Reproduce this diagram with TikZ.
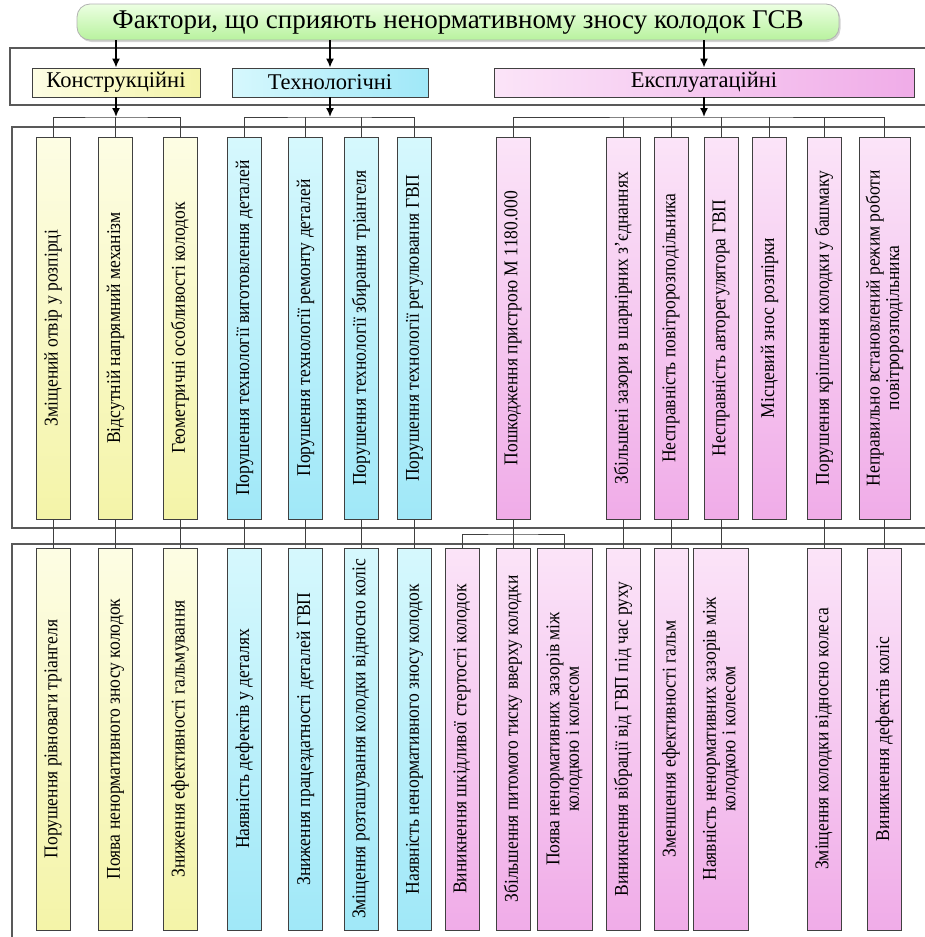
\documentclass[tikz,border=0pt]{standalone}
\usepackage{fontspec}
\setmainfont{Liberation Serif}
\newfontfamily\narrowfont{Liberation Serif}[FakeStretch=0.9]
\usetikzlibrary{arrows.meta,positioning,shadows}
\definecolor{KonL}{RGB}{253,253,228}
\definecolor{KonR}{RGB}{244,244,168}
\definecolor{TexL}{RGB}{214,248,253}
\definecolor{TexR}{RGB}{160,232,248}
\definecolor{ExpL}{RGB}{251,228,248}
\definecolor{ExpR}{RGB}{240,172,232}
\definecolor{HeadT}{RGB}{236,255,226}
\definecolor{HeadB}{RGB}{184,242,158}
\tikzset{
  headbox/.style={rounded corners=13pt,draw=black!30,line width=0.8pt,
                  top color=HeadT,bottom color=HeadB,
                  minimum width=762pt,minimum height=36pt,
                  font=\fontsize{27}{30}\selectfont,
                  drop shadow={shadow xshift=1.5pt,shadow yshift=-2pt,opacity=.35}},
  catbox/.style={draw=black!75,line width=0.9pt,minimum height=29pt,inner sep=2pt,
                 font=\fontsize{22.5}{26}\selectfont,
                 drop shadow={shadow xshift=1.2pt,shadow yshift=-1.2pt,opacity=.4}},
  vbox/.style={draw=black!75,line width=0.9pt,rotate=90,
               minimum width=382pt,minimum height=34pt,inner sep=1pt,
               font=\narrowfont\fontsize{19.5}{19.5}\selectfont,align=center},
  kbox/.style={vbox,top color=KonL,bottom color=KonR},
  tbox/.style={vbox,top color=TexL,bottom color=TexR},
  ebox/.style={vbox,top color=ExpL,bottom color=ExpR},
  arr/.style={-{Latex[length=9pt,width=8pt]},line width=1.6pt,black},
  link/.style={line width=0.9pt,black!75},
  frame/.style={line width=1.3pt,black!65},
}

\begin{document}
\begin{tikzpicture}[x=1pt,y=-1pt]
  \useasboundingbox (0,0) rectangle (925,937);
  \clip (0,0) rectangle (925,937);
  % frames
  \draw[frame] (940,48) -- (10,48) -- (10,105) -- (940,105);
  \draw[frame] (940,127) -- (12,127) -- (12,528) -- (940,528);
  \draw[frame] (940,544) -- (12,544) -- (12,950);

  % title and groups
  \node[headbox] (title) at (458,22) {Фактори, що сприяють ненормативному зносу колодок ГСВ};
  \node[catbox,minimum width=168pt,left color=KonL,right color=KonR] (kon) at (116,82.5) {Конструкційні};
  \node[catbox,minimum width=196pt,left color=TexL,right color=TexR] (tex) at (330,82.5) {Технологічні};
  \node[catbox,minimum width=420pt,left color=ExpL,right color=ExpR] (exp) at (704,82.5) {Експлуатаційні};
  \draw[arr] (title.south -| kon.north) -- (kon.north);
  \draw[arr] (title.south -| tex.north) -- (tex.north);
  \draw[arr] (title.south -| exp.north) -- (exp.north);

  % causes
  \node[kbox] (u1) at (53,328) {Зміщений отвір у розпірці};
  \node[kbox] (u2) at (115.5,328) {Відсутній напрямний механізм};
  \node[kbox] (u3) at (180,328) {Геометричні особливості колодок};
  \node[tbox] (u4) at (244.5,328) {Порушення технології виготовлення деталей};
  \node[tbox] (u5) at (305.5,328) {Порушення технології ремонту деталей};
  \node[tbox] (u6) at (361,328) {Порушення технології збирання тріангеля};
  \node[tbox] (u7) at (414.5,328) {Порушення технології регулювання ГВП};
  \node[ebox] (u8) at (513,328) {Пошкодження пристрою М 1180.000};
  \node[ebox] (u9) at (623,328) {Збільшені зазори в шарнірних з’єднаннях};
  \node[ebox] (u10) at (671,328) {Несправність повітророзподільника};
  \node[ebox] (u11) at (721,328) {Несправність авторегулятора ГВП};
  \node[ebox] (u12) at (769.5,328) {Місцевий знос розпірки};
  \node[ebox] (u13) at (824,328) {Порушення кріплення колодки у башмаку};
  \node[ebox,minimum height=51pt] (u14) at (884.5,328) {Неправильно встановлений режим роботи\\повітророзподільника};

  % consequences
  \node[kbox] (l1) at (53,739) {Порушення рівноваги тріангеля};
  \node[kbox] (l2) at (115.5,739) {Поява ненормативного зносу колодок};
  \node[kbox] (l3) at (180,739) {Зниження ефективності гальмування};
  \node[tbox] (l4) at (244.5,739) {Наявність дефектів у деталях};
  \node[tbox] (l5) at (305.5,739) {Зниження працездатності деталей ГВП};
  \node[tbox] (l6) at (361,739) {Зміщення розташування колодки відносно коліс};
  \node[tbox] (l7) at (414.5,739) {Наявність ненормативного зносу колодок};
  \node[ebox] (l8) at (462,739) {Виникнення шкідливої стертості колодок};
  \node[ebox] (l9) at (513,739) {Збільшення питомого тиску вверху колодки};
  \node[ebox,minimum height=55pt] (l10) at (564.5,739) {Поява ненормативних зазорів між\\колодкою і колесом};
  \node[ebox] (l11) at (623,739) {Виникнення вібрації від ГВП під час руху};
  \node[ebox] (l12) at (671,739) {Зменшення ефективності гальм};
  \node[ebox,minimum height=55pt] (l13) at (721,739) {Наявність ненормативних зазорів між\\колодкою і колесом};
  \node[ebox] (l14) at (824,739) {Зміщення колодки відносно колеса};
  \node[ebox] (l15) at (884.5,739) {Виникнення дефектів коліс};

  % group buses
  \coordinate (kbus) at (116,117);
  \coordinate (tbus) at (330,117);
  \coordinate (ebus) at (704,117);
  \coordinate (pbus) at (513,534);
  \draw[arr] (kon.south) -- (kbus);
  \draw[arr] (tex.south) -- (tbus);
  \draw[arr] (exp.south) -- (ebus);
  \draw[link] (u1.east) |- (kbus) -| (u3.east);
  \draw[link] (u2.east) -- (u2.east |- kbus);
  \draw[link] (u4.east) |- (tbus) -| (u7.east);
  \draw[link] (u5.east) -- (u5.east |- tbus);
  \draw[link] (u6.east) -- (u6.east |- tbus);
  \draw[link] (u8.east) |- (ebus) -| (u14.east);
  \draw[link] (u9.east) -- (u9.east |- ebus);
  \draw[link] (u10.east) -- (u10.east |- ebus);
  \draw[link] (u11.east) -- (u11.east |- ebus);
  \draw[link] (u12.east) -- (u12.east |- ebus);
  \draw[link] (u13.east) -- (u13.east |- ebus);

  % cause -> consequence
  \draw[link] (u1.west) -- (l1.east);
  \draw[link] (u2.west) -- (l2.east);
  \draw[link] (u3.west) -- (l3.east);
  \draw[link] (u4.west) -- (l4.east);
  \draw[link] (u5.west) -- (l5.east);
  \draw[link] (u6.west) -- (l6.east);
  \draw[link] (u7.west) -- (l7.east);
  \draw[link] (u8.west) -- (l9.east);
  \draw[link] (l8.east) |- (pbus) -| (l10.east);
  \draw[link] (u9.west) -- (l11.east);
  \draw[link] (u10.west) -- (l12.east);
  \draw[link] (u11.west) -- (l13.east);
  \draw[link] (u13.west) -- (l14.east);
  \draw[link] (u14.west) -- (l15.east);
\end{tikzpicture}
\end{document}
